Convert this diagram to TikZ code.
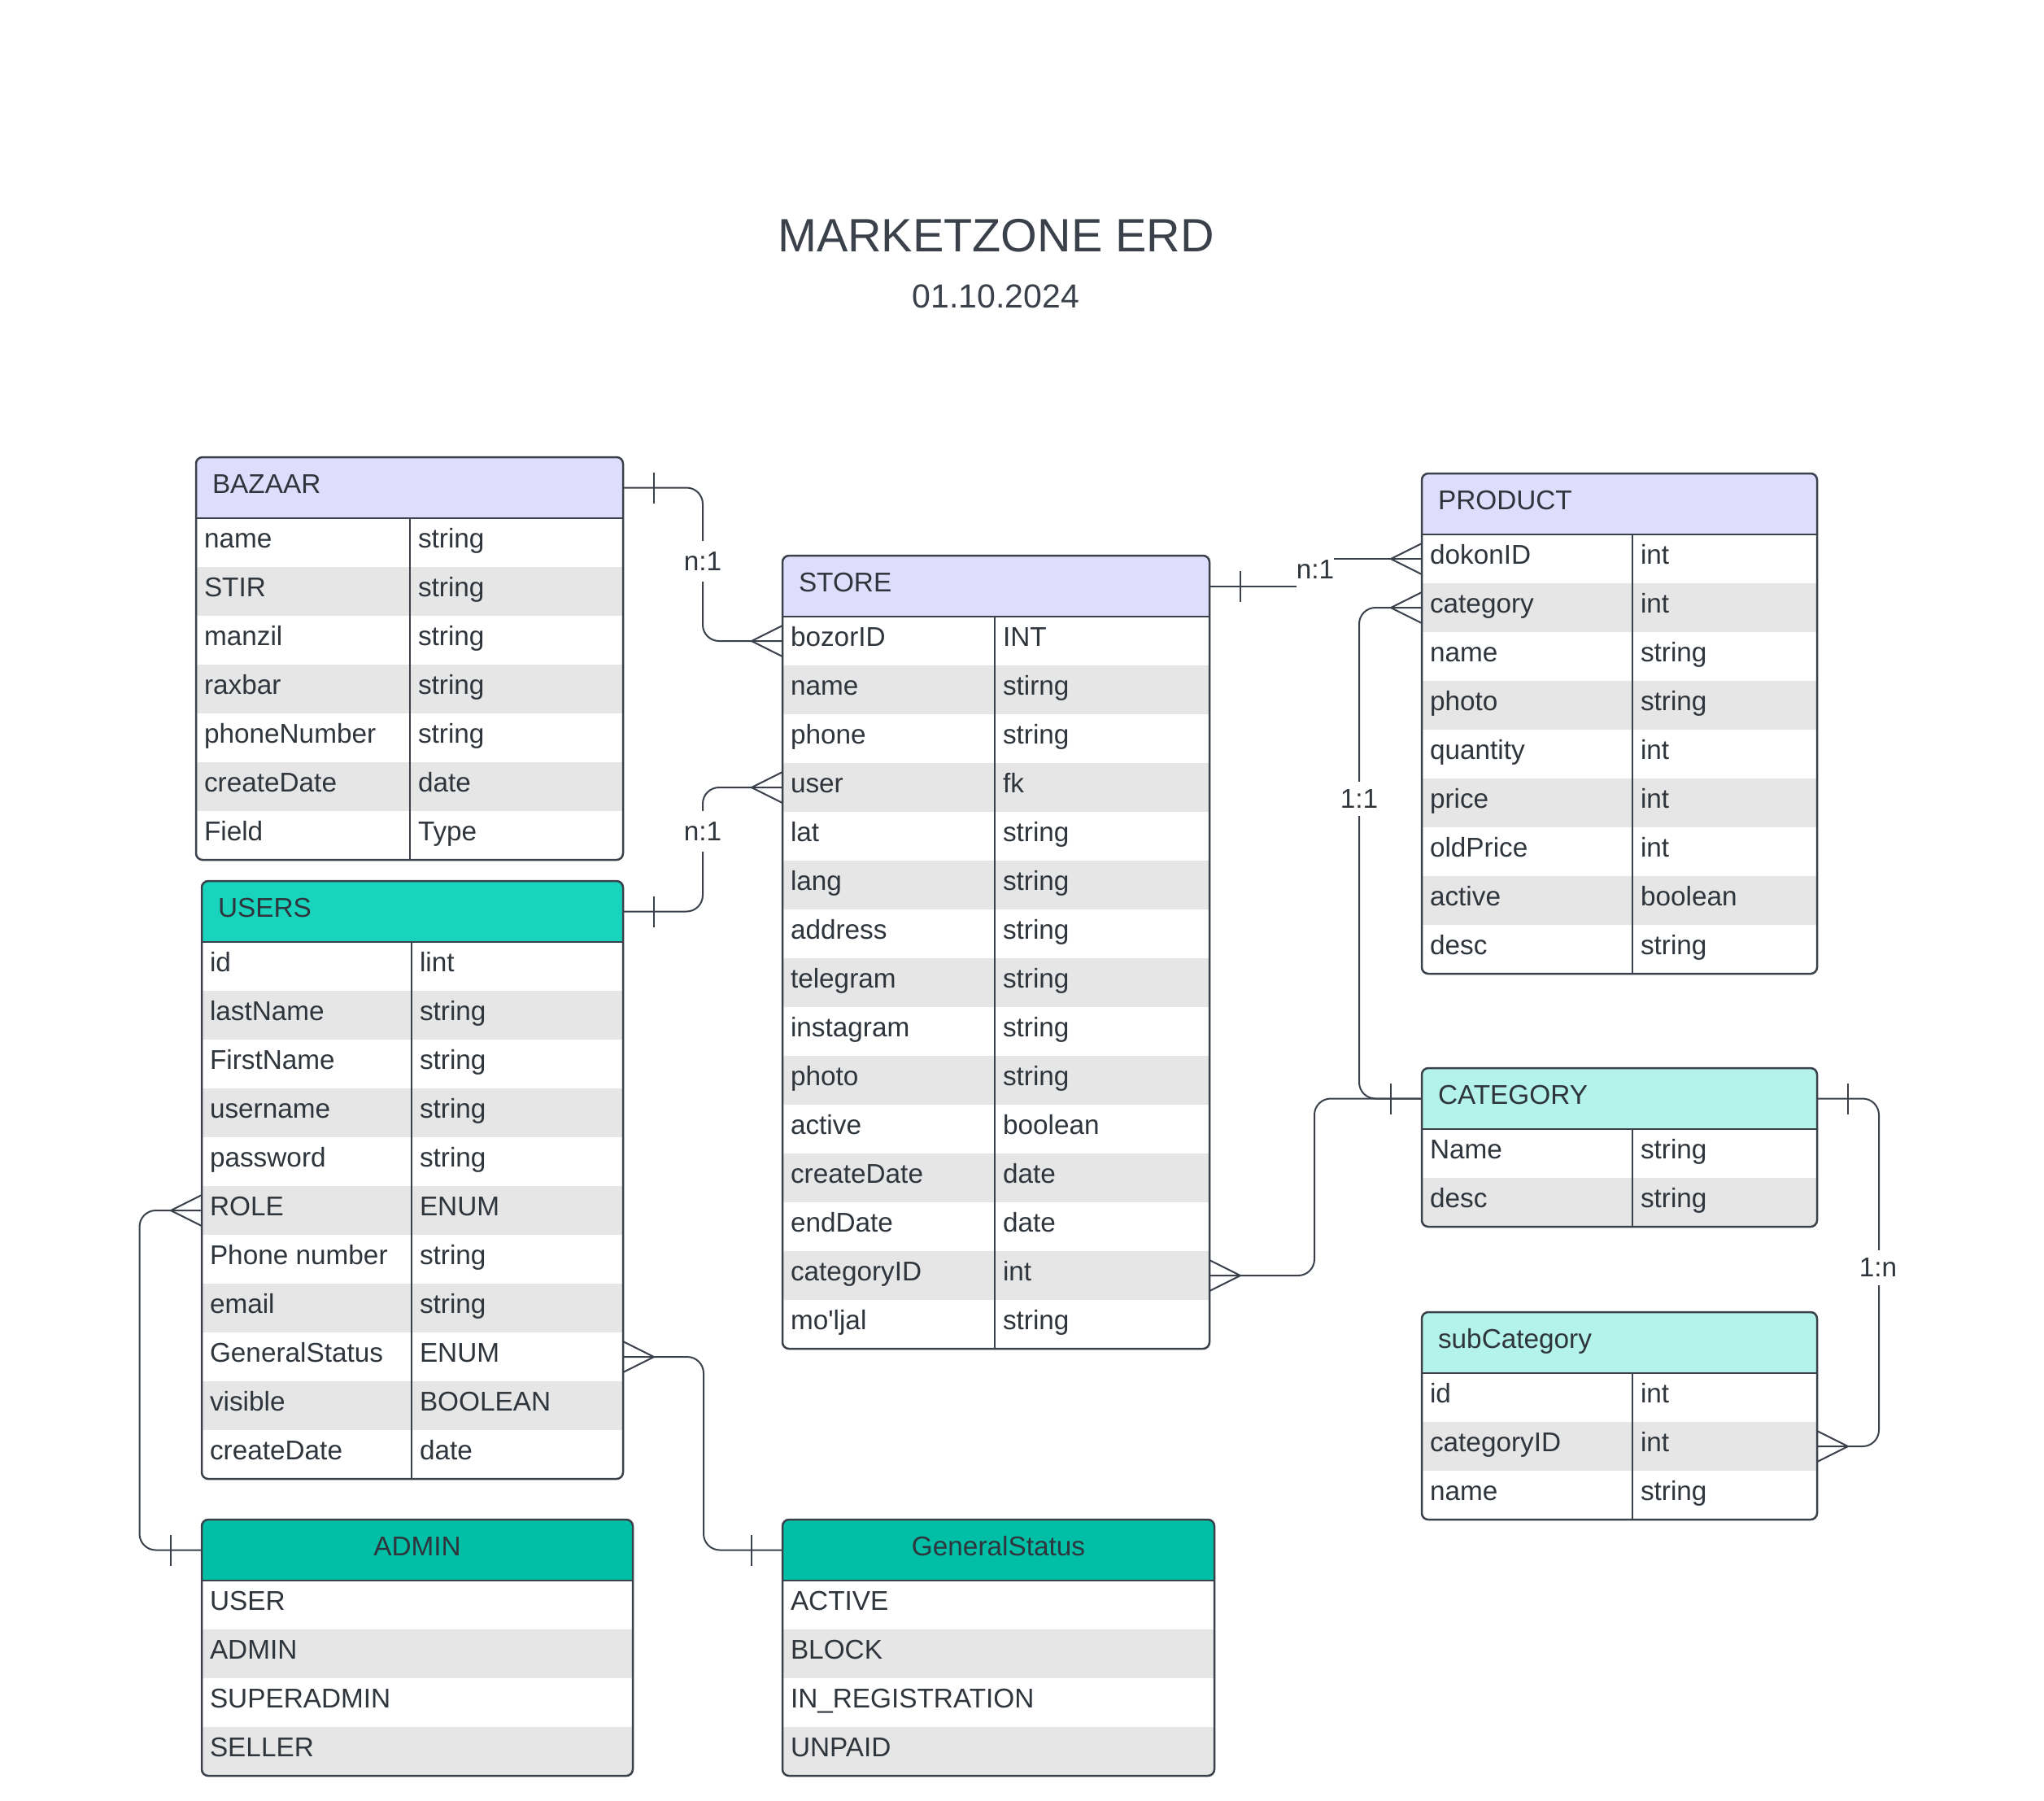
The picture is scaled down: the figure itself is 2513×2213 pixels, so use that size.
\documentclass[tikz,border=0pt]{standalone}
\usepackage{fontspec}
\setmainfont{Liberation Sans}
\usetikzlibrary{calc}
\definecolor{rowgray}{HTML}{E6E6E6}
\definecolor{lav}{HTML}{DEDEFC}
\definecolor{tealA}{HTML}{19D4BD}
\definecolor{tealB}{HTML}{00BFA6}
\definecolor{mint}{HTML}{B3F3EA}
\definecolor{ink}{HTML}{2F353C}
\definecolor{edgec}{HTML}{3A414A}
\newcommand{\upx}{0.3pt}
\tikzset{
  hdrbox/.style={rectangle, draw=none, inner sep=0pt, outer sep=0pt, minimum height=75*\upx},
  rowbox/.style={rectangle, draw=none, inner sep=0pt, outer sep=0pt, minimum height=60*\upx},
  txt/.style={inner sep=0pt, outer sep=0pt, text=ink, font=\fontsize{10}{12}\selectfont},
  tblline/.style={draw=edgec, line width=0.75pt},
  conn/.style={draw=edgec, line width=0.6pt},
  lbl/.style={fill=white, inner xsep=2pt, inner ysep=3pt, text=ink, font=\fontsize{10}{12}\selectfont},
}
% #1 name #2 x #3 y #4 w #5 divider #6 header colour #7 title #8 rows #9 nrows
\newcommand{\erdtable}[9]{%
  \begin{scope}
    \clip[rounded corners=8*\upx] (#2,#3) rectangle ({#2+#4},{#3+75+60*#9});
    \node[hdrbox, fill=#6, minimum width=#4*\upx, anchor=north west] (#1-h) at (#2,#3) {};
    \foreach \fa/\fb [count=\i] in {#8} {
      \ifodd\i \def\rc{white}\else \def\rc{rowgray}\fi
      \node[rowbox, fill=\rc, minimum width=#4*\upx, anchor=north west] (#1-r\i) at (#2,{#3+75+60*(\i-1)}) {};
    }
  \end{scope}
  \node[txt, anchor=base west] (#1-t) at ({#2+20},{#3+44.5}) {#7};
  \foreach \fa/\fb [count=\i] in {#8} {
    \node[txt, anchor=base west] (#1-f\i) at ({#2+10},{#3+75+60*(\i-1)+36}) {\fa};
    \node[txt, anchor=base west] (#1-y\i) at ({#2+#5+10},{#3+75+60*(\i-1)+36}) {\fb};
  }
  \draw[tblline, rounded corners=8*\upx] (#2,#3) rectangle ({#2+#4},{#3+75+60*#9});
  \draw[tblline] (#2,{#3+75}) -- ({#2+#4},{#3+75});
  \draw[tblline] ({#2+#5},{#3+75}) -- ({#2+#5},{#3+75+60*#9});
}
% #1 name #2 x #3 y #4 w #5 header colour #6 title #7 rows #8 nrows
\newcommand{\enumtable}[8]{%
  \begin{scope}
    \clip[rounded corners=8*\upx] (#2,#3) rectangle ({#2+#4},{#3+75+60*#8});
    \node[hdrbox, fill=#5, minimum width=#4*\upx, anchor=north west] (#1-h) at (#2,#3) {};
    \foreach \fa [count=\i] in {#7} {
      \ifodd\i \def\rc{white}\else \def\rc{rowgray}\fi
      \node[rowbox, fill=\rc, minimum width=#4*\upx, anchor=north west] (#1-r\i) at (#2,{#3+75+60*(\i-1)}) {};
    }
  \end{scope}
  \node[txt, anchor=base] (#1-t) at ({#2+#4/2},{#3+44.5}) {#6};
  \foreach \fa [count=\i] in {#7} {
    \node[txt, anchor=base west] (#1-f\i) at ({#2+10},{#3+75+60*(\i-1)+36}) {\fa};
  }
  \draw[tblline, rounded corners=8*\upx] (#2,#3) rectangle ({#2+#4},{#3+75+60*#8});
  \draw[tblline] (#2,{#3+75}) -- ({#2+#4},{#3+75});
}
\newcommand{\crowL}[1]{%
  \draw[conn] ([xshift=-38*\upx]#1) -- ([yshift=19*\upx]#1);
  \draw[conn] ([xshift=-38*\upx]#1) -- ([yshift=-19*\upx]#1);}
\newcommand{\crowR}[1]{%
  \draw[conn] ([xshift=38*\upx]#1) -- ([yshift=19*\upx]#1);
  \draw[conn] ([xshift=38*\upx]#1) -- ([yshift=-19*\upx]#1);}
\newcommand{\barL}[1]{%
  \draw[conn] ([xshift=-38*\upx,yshift=19*\upx]#1) -- ([xshift=-38*\upx,yshift=-19*\upx]#1);}
\newcommand{\barR}[1]{%
  \draw[conn] ([xshift=38*\upx,yshift=19*\upx]#1) -- ([xshift=38*\upx,yshift=-19*\upx]#1);}
\begin{document}
\begin{tikzpicture}[x=0.3pt, y=-0.3pt]
\useasboundingbox[fill=white] (0,0) rectangle (2513,2213);

\node[anchor=base, inner sep=0pt, text=edgec, font=\fontsize{17.25}{20}\selectfont] (title) at (1224.5,309) {MARKETZONE ERD};
\node[anchor=base, inner sep=0pt, text=edgec, font=\fontsize{12.3}{14}\selectfont] (date) at (1224.5,378) {01.10.2024};

% tables
\erdtable{bazaar}{241}{562}{525}{263}{lav}{BAZAAR}{name/string, STIR/string, manzil/string, raxbar/string, phoneNumber/string, createDate/date, Field/Type}{7}
\erdtable{store}{962}{683}{525}{261}{lav}{STORE}{bozorID/INT, name/stirng, phone/string, user/fk, lat/string, lang/string, address/string, telegram/string, instagram/string, photo/string, active/boolean, createDate/date, endDate/date, categoryID/int, mo\textquotesingle ljal/string}{15}
\erdtable{users}{248}{1083}{518}{258}{tealA}{USERS}{id/lint, lastName/string, FirstName/string, username/string, password/string, ROLE/ENUM, Phone number/string, email/string, GeneralStatus/ENUM, visible/BOOLEAN, createDate/date}{11}
\erdtable{product}{1748}{582}{486}{259}{lav}{PRODUCT}{dokonID/int, category/int, name/string, photo/string, quantity/int, price/int, oldPrice/int, active/boolean, desc/string}{9}
\erdtable{category}{1748}{1313}{486}{259}{mint}{CATEGORY}{Name/string, desc/string}{2}
\erdtable{subcat}{1748}{1613}{486}{259}{mint}{subCategory}{id/int, categoryID/int, name/string}{3}
\enumtable{admin}{248}{1868}{530}{tealB}{ADMIN}{USER, ADMIN, SUPERADMIN, SELLER}{4}
\enumtable{gstatus}{962}{1868}{531}{tealB}{GeneralStatus}{ACTIVE, BLOCK, IN\_REGISTRATION, UNPAID}{4}

% connectors
\draw[conn, rounded corners=20*\upx] (bazaar-h.east) -| ([xshift=-98*\upx]store-r1.west) -- (store-r1.west);
\draw[conn, rounded corners=20*\upx] (users-h.east) -| ([xshift=-98*\upx]store-r4.west) -- (store-r4.west);
\draw[conn] (store-h.east) -| ([xshift=-131*\upx]product-r1.west) -- (product-r1.west);
\draw[conn, rounded corners=20*\upx] (category-h.west) -| ([xshift=-77*\upx]product-r2.west) -- (product-r2.west);
\draw[conn, rounded corners=20*\upx] (store-r14.east) -| ([xshift=-132*\upx]category-h.west) -- (category-h.west);
\draw[conn, rounded corners=20*\upx] (category-h.east) -| ([xshift=76*\upx]subcat-r2.east) -- (subcat-r2.east);
\draw[conn, rounded corners=20*\upx] (users-r6.west) -| ([xshift=-76.5*\upx]admin-h.west) -- (admin-h.west);
\draw[conn, rounded corners=20*\upx] (users-r9.east) -| ([xshift=-97*\upx]gstatus-h.west) -- (gstatus-h.west);

% ends
\crowL{store-r1.west}
\crowL{store-r4.west}
\crowL{product-r1.west}
\crowL{product-r2.west}
\crowR{store-r14.east}
\crowR{subcat-r2.east}
\crowL{users-r6.west}
\crowR{users-r9.east}
\barR{bazaar-h.east}
\barR{users-h.east}
\barR{store-h.east}
\barL{category-h.west}
\barR{category-h.east}
\barL{admin-h.west}
\barL{gstatus-h.west}

% labels
\node[lbl, inner ysep=4pt] (lab1) at (864,690) {n:1};
\node[lbl, inner ysep=4pt] (lab2) at (864,1022) {n:1};
\node[lbl, inner xsep=0pt, inner ysep=3.4pt] (lab3) at (1617,700) {n:1};
\node[lbl] (lab4) at (1671,982) {1:1};
\node[lbl] (lab5) at (2309,1558) {1:n};
\end{tikzpicture}
\end{document}
